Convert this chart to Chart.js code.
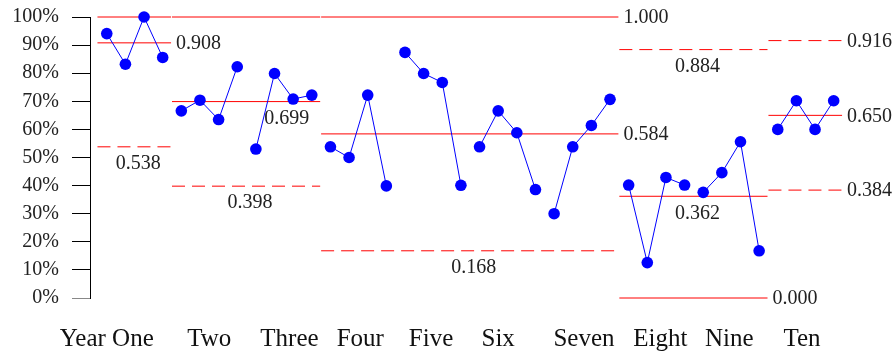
<!DOCTYPE html>
<html>
<head>
<meta charset="utf-8">
<script src="https://cdn.jsdelivr.net/npm/chart.js@4/dist/chart.umd.min.js"></script>
<style>
  html, body { margin: 0; padding: 0; background: #fff; }
  #wrap { width: 893px; height: 353px; }
</style>
</head>
<body>
<div id="wrap"><canvas id="myChart"></canvas></div>
<script>
// Year labels, 4 readings per year
const years = ['Year One', 'Two', 'Three', 'Four', 'Five', 'Six', 'Seven', 'Eight', 'Nine', 'Ten'];

// Proportion per period (40 points)
const rates = [
    0.941, 0.832, 1.000, 0.856,
    0.666, 0.704, 0.635, 0.823,
    0.530, 0.799, 0.708, 0.722,
    0.538, 0.500, 0.722, 0.399,
    0.874, 0.799, 0.767, 0.401,
    0.538, 0.666, 0.588, 0.386,
    0.300, 0.538, 0.614, 0.707,
    0.402, 0.126, 0.429, 0.402,
    0.376, 0.446, 0.556, 0.168,
    0.600, 0.702, 0.600, 0.702
];

// Control limit stages (first and last point index of each stage)
const stageStart = [0, 4, 12, 28, 36];
const stageEnd = [3, 11, 27, 35, 39];
const ucl = [1.000, 1.000, 1.000, 0.884, 0.916];
const cl = [0.908, 0.699, 0.584, 0.362, 0.650];
const lcl = [0.538, 0.398, 0.168, 0.000, 0.384];

// Where the x labels sit (in period units)
const yearTickPos = [0, 5.5, 9.8, 13.6, 17.4, 21, 25.6, 29.7, 33.4, 37.3];

// Where each limit value is written (null = not written)
const labelSpots = [
    { ucl: null, cl: 'right', lcl: 'below' },
    { ucl: null, cl: 'belowRight', lcl: 'below' },
    { ucl: 'right', cl: 'right', lcl: 'below' },
    { ucl: 'below', cl: 'below', lcl: 'right' },
    { ucl: 'right', cl: 'right', lcl: 'right' }
];

const FONT = "'Liberation Serif', 'Times New Roman', serif";
const LINE_PAD_LEFT = 0.5;
const LINE_PAD_RIGHT = 0.45;

// one dataset per year so the line breaks between years
const datasets = [];
years.forEach((year, k) => {
    const pts = [];
    for (let i = k * 4; i < k * 4 + 4; i++) {
        pts.push({ x: i, y: rates[i] });
    }
    datasets.push({
        label: year,
        data: pts,
        borderColor: '#0000ff',
        backgroundColor: '#0000ff',
        borderWidth: 1,
        pointRadius: 5.8,
        pointBorderWidth: 0,
        pointHoverRadius: 5.8,
        clip: false,
        order: 0
    });
});

// limit lines for each stage; limits held at 0 or 1 are solid, others dashed
function limitLine(value, s, dashed) {
    return {
        label: 'limit',
        data: [
            { x: stageStart[s] - LINE_PAD_LEFT, y: value },
            { x: stageEnd[s] + LINE_PAD_RIGHT, y: value }
        ],
        borderColor: '#ff0000',
        borderWidth: 1,
        borderDash: dashed ? [13, 7] : [],
        pointRadius: 0,
        clip: false,
        order: 1
    };
}
for (let s = 0; s < stageStart.length; s++) {
    datasets.push(limitLine(ucl[s], s, ucl[s] < 1));
    datasets.push(limitLine(cl[s], s, false));
    datasets.push(limitLine(lcl[s], s, lcl[s] > 0));
}

// Plugin to write the limit values next to the lines
const limitLabels = {
    id: 'limitLabels',
    afterDatasetsDraw(chart) {
        const ctx = chart.ctx;
        const xs = chart.scales.x;
        const ys = chart.scales.y;
        ctx.save();
        ctx.font = '20px ' + FONT;
        ctx.fillStyle = '#222';
        ctx.textBaseline = 'middle';
        for (let s = 0; s < stageStart.length; s++) {
            const x0 = xs.getPixelForValue(stageStart[s] - LINE_PAD_LEFT);
            const x1 = xs.getPixelForValue(stageEnd[s] + LINE_PAD_RIGHT);
            const vals = { ucl: ucl[s], cl: cl[s], lcl: lcl[s] };
            for (const key of ['ucl', 'cl', 'lcl']) {
                const spot = labelSpots[s][key];
                if (!spot) continue;
                const y = ys.getPixelForValue(vals[key]);
                const txt = vals[key].toFixed(3);
                if (spot === 'right') {
                    ctx.textAlign = 'left';
                    ctx.fillText(txt, x1 + 5, y + 1);
                } else if (spot === 'below') {
                    ctx.textAlign = 'center';
                    ctx.fillText(txt, (x0 + x1) / 2 + 4, y + 17);
                } else {
                    ctx.textAlign = 'right';
                    ctx.fillText(txt, x1 - 11, y + 17);
                }
            }
        }
        ctx.restore();
    }
};

const ctx = document.getElementById('myChart').getContext('2d');
new Chart(ctx, {
    type: 'line',
    data: { datasets: datasets },
    options: {
        responsive: true,
        maintainAspectRatio: false,
        animation: false,
        layout: { padding: { top: 17, left: 12, right: 50, bottom: 0 } },
        plugins: {
            legend: { display: false },
            tooltip: { enabled: false }
        },
        scales: {
            x: {
                type: 'linear',
                min: -0.9,
                max: 39.5,
                grid: { display: false, drawTicks: false },
                border: { display: false },
                afterBuildTicks: axis => {
                    axis.ticks = yearTickPos.map(v => ({ value: v }));
                },
                afterFit: axis => {
                    axis.height = 55;
                    axis.paddingLeft = 0;
                    axis.paddingRight = 0;
                },
                ticks: {
                    autoSkip: false,
                    maxRotation: 0,
                    padding: 26,
                    color: '#111',
                    font: { family: FONT, size: 25 },
                    callback: (value, index) => years[index]
                }
            },
            y: {
                min: 0,
                max: 1,
                grid: {
                    drawOnChartArea: false,
                    tickLength: 18,
                    color: c => (c.tick && c.tick.value === 0 ? '#888' : '#000')
                },
                border: { display: true, color: '#000', width: 1 },
                afterFit: axis => {
                    axis.width = 78;
                    axis.paddingTop = 0;
                    axis.paddingBottom = 0;
                },
                ticks: {
                    autoSkip: false,
                    stepSize: 0.1,
                    padding: 13,
                    color: '#222',
                    font: { family: FONT, size: 20 },
                    callback: v => Math.round(v * 100) + '%'
                }
            }
        }
    },
    plugins: [limitLabels]
});
</script>
</body>
</html>
